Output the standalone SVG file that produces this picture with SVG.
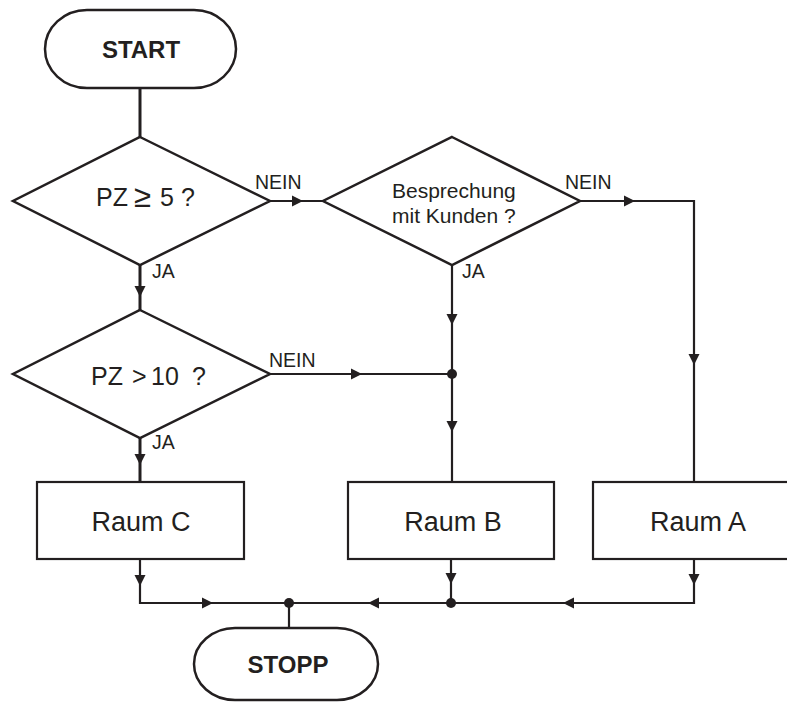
<svg xmlns="http://www.w3.org/2000/svg" xmlns:xlink="http://www.w3.org/1999/xlink" width="787" height="702" viewBox="0 0 787 702">
<style>
.sh{fill:#fff;stroke:#231f20;stroke-width:2.5}
.bx{fill:#fff;stroke:#231f20;stroke-width:2.2}
.ln{fill:none;stroke:#231f20;stroke-width:2.2}
.tk{fill:none;stroke:#231f20;stroke-width:3}
.t{font-family:"Liberation Sans",Arial,sans-serif;fill:#231f20}
.b{font-weight:bold;font-size:24px}
.lb{font-size:19.5px}
.q{font-size:25px}
.r{font-size:27px}
.d{font-size:21px}
.dot{fill:#231f20}
</style>
<defs>
<path id="ar" d="M0,0 L-11,-5.5 L-11,5.5 Z" fill="#231f20"/>
</defs>
<g id="connectors">
<path class="tk" d="M140,88 V137"/>
<path class="tk" d="M140,265 V310"/>
<path class="tk" d="M140,438 V482"/>
<path class="ln" d="M270,201 H323"/>
<path class="ln" d="M580,201 H694 V482"/>
<path class="ln" d="M452,265 V482"/>
<path class="ln" d="M270,374 H452"/>
<path class="ln" d="M140,559 V603 H694 V559"/>
<path class="ln" d="M451,559 V603"/>
<path class="ln" d="M289,603 V628"/>
<use xlink:href="#ar" transform="translate(303,201)"/>
<use xlink:href="#ar" transform="translate(635,201)"/>
<use xlink:href="#ar" transform="translate(694,365) rotate(90)"/>
<use xlink:href="#ar" transform="translate(452,325) rotate(90)"/>
<use xlink:href="#ar" transform="translate(452,432) rotate(90)"/>
<use xlink:href="#ar" transform="translate(140,297) rotate(90)"/>
<use xlink:href="#ar" transform="translate(362,374)"/>
<use xlink:href="#ar" transform="translate(140,465) rotate(90)"/>
<use xlink:href="#ar" transform="translate(140,586) rotate(90)"/>
<use xlink:href="#ar" transform="translate(451,584) rotate(90)"/>
<use xlink:href="#ar" transform="translate(694,585) rotate(90)"/>
<use xlink:href="#ar" transform="translate(213,603)"/>
<use xlink:href="#ar" transform="translate(368,603) rotate(180)"/>
<use xlink:href="#ar" transform="translate(563,603) rotate(180)"/>
<circle class="dot" cx="452" cy="374" r="5"/>
<circle class="dot" cx="451" cy="603" r="5"/>
<circle class="dot" cx="289" cy="603" r="5"/>
<text class="t lb" x="255" y="189">NEIN</text>
<text class="t lb" x="565" y="189">NEIN</text>
<text class="t lb" x="269" y="367">NEIN</text>
<text class="t lb" x="152" y="278">JA</text>
<text class="t lb" x="462" y="278">JA</text>
<text class="t lb" x="152" y="449">JA</text>
</g>
<g id="start">
<rect class="sh" x="45" y="10" width="191" height="78" rx="42" ry="39"/>
<text class="t b" x="141" y="58" text-anchor="middle">START</text>
</g>
<g id="d1">
<polygon class="sh" points="140,137 270,201 140,265 13,201"/>
<text class="t q" y="206"><tspan x="96">PZ</tspan><tspan x="134" y="207" font-size="31">≥</tspan><tspan x="160" y="206">5</tspan><tspan x="181">?</tspan></text>
</g>
<g id="d2">
<polygon class="sh" points="452,137 580,201 452,265 323,201"/>
<text class="t d" x="392" y="198">Besprechung</text>
<text class="t d" x="392" y="223">mit Kunden ?</text>
</g>
<g id="d3">
<polygon class="sh" points="140,310 270,374 140,438 13,374"/>
<text class="t q" y="385"><tspan x="91">PZ</tspan><tspan x="132">&gt;</tspan><tspan x="151">10</tspan><tspan x="192">?</tspan></text>
</g>
<g id="raumC">
<rect class="bx" x="37" y="482" width="207" height="77"/>
<text class="t r" x="141" y="531" text-anchor="middle">Raum C</text>
</g>
<g id="raumB">
<rect class="bx" x="348" y="482" width="206" height="77"/>
<text class="t r" x="453" y="531" text-anchor="middle">Raum B</text>
</g>
<g id="raumA">
<rect class="bx" x="593" y="482" width="206" height="77"/>
<text class="t r" x="698" y="531" text-anchor="middle">Raum A</text>
</g>
<g id="stopp">
<rect class="sh" x="194" y="628" width="184" height="72" rx="41" ry="36"/>
<text class="t b" x="288" y="673" text-anchor="middle">STOPP</text>
</g>
</svg>
